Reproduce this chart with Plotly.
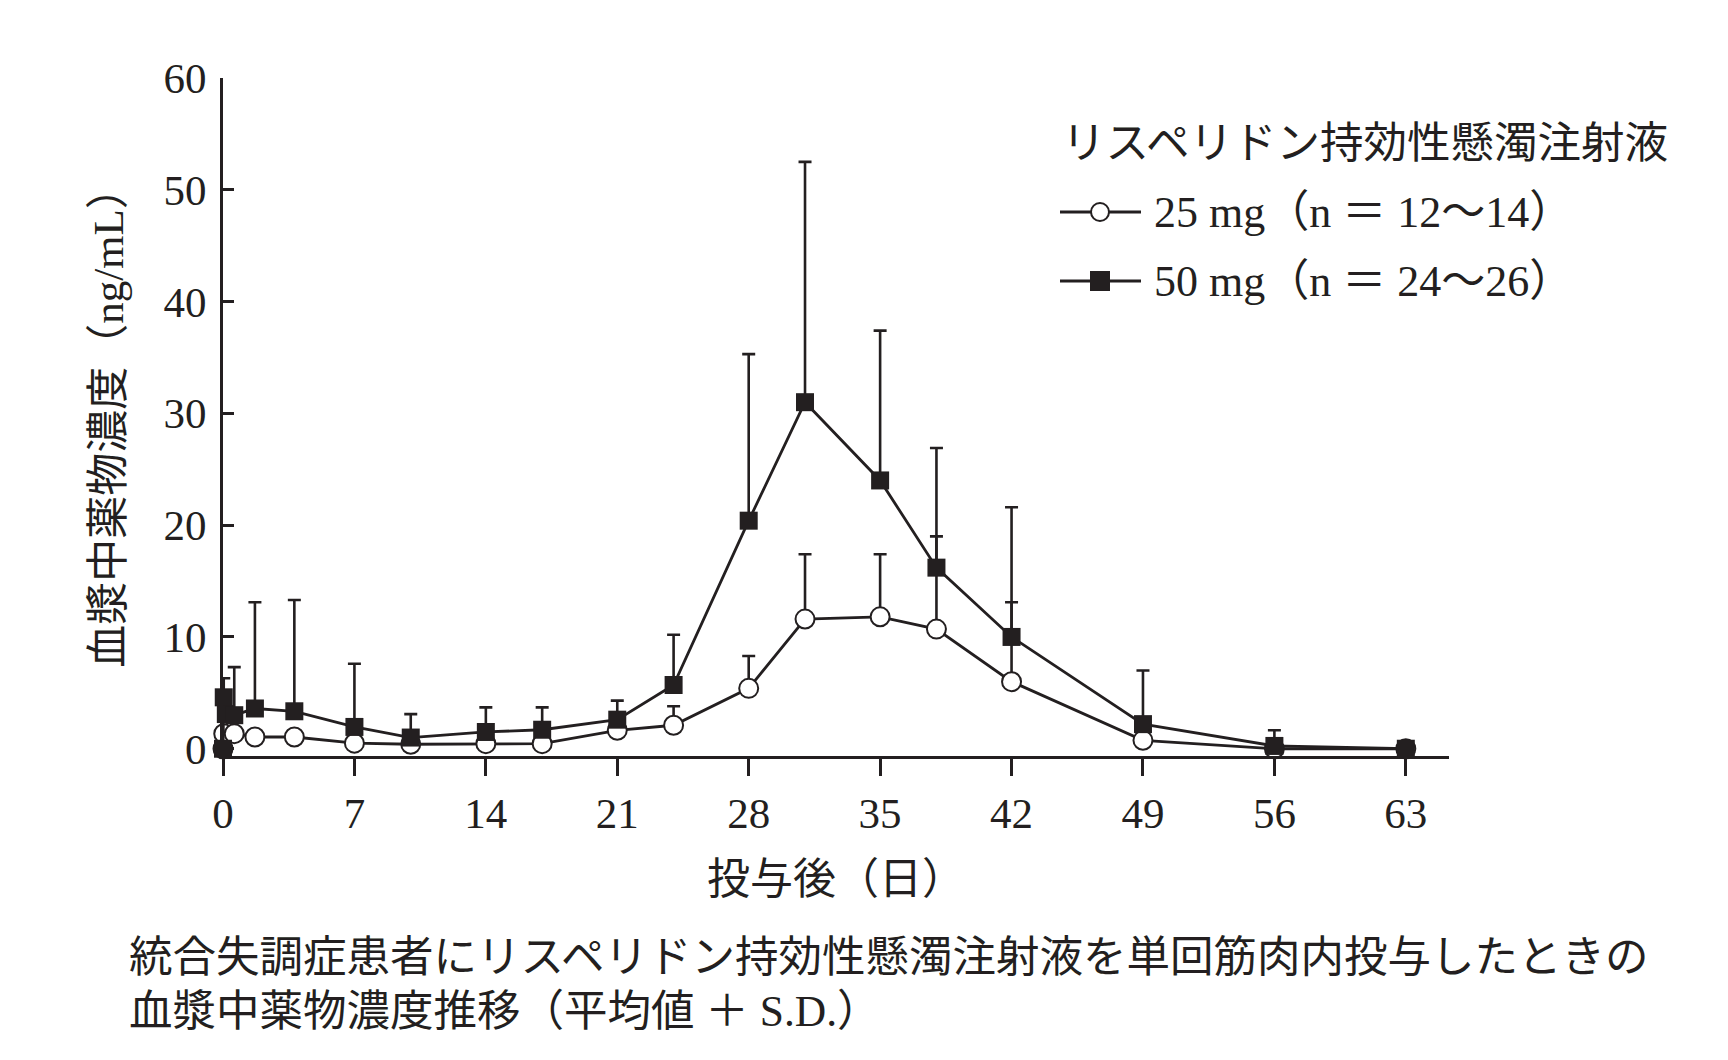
import plotly.graph_objects as go

# ---- data ----
days_25 = [0, 0.04, 0.6, 1.7, 3.8, 7, 10, 14, 17, 21, 24, 28, 31, 35, 38, 42, 49, 56, 63]
mean_25 = [0.0, 1.35, 1.35, 1.05, 1.05, 0.5, 0.4, 0.45, 0.45, 1.65, 2.1, 5.4, 11.6, 11.8, 10.7, 6.0, 0.75, 0.0, 0.0]
sd_25 = [0, 0, 0, 0, 0, 0, 0, 0, 0, 0.8, 1.7, 2.9, 5.8, 5.6, 8.3, 7.1, 2.0, 0, 0]

days_50 = [0, 0.04, 0.15, 0.6, 1.7, 3.8, 7, 10, 14, 17, 21, 24, 28, 31, 35, 38, 42, 49, 56, 63]
mean_50 = [0.0, 4.6, 3.1, 3.0, 3.6, 3.35, 1.95, 1.0, 1.5, 1.7, 2.6, 5.7, 20.4, 31.0, 24.0, 16.2, 10.0, 2.2, 0.25, 0.0]
sd_50 = [0, 1.7, 0, 4.3, 9.5, 9.95, 5.65, 2.1, 2.2, 2.0, 1.7, 4.5, 14.9, 21.5, 13.4, 10.7, 11.6, 4.8, 1.4, 0.5]

x_ticks = [0, 7, 14, 21, 28, 35, 42, 49, 56, 63]
y_ticks = [0, 10, 20, 30, 40, 50, 60]

legend_title = "リスペリドン持効性懸濁注射液"
label_25 = "25 mg（n ＝ 12〜14）"
label_50 = "50 mg（n ＝ 24〜26）"
x_title = "投与後（日）"
y_title = "血漿中薬物濃度（ng/mL）"
caption_1 = "統合失調症患者にリスペリドン持効性懸濁注射液を単回筋肉内投与したときの"
caption_2 = "血漿中薬物濃度推移（平均値 ＋ S.D.）"

FONT = "Liberation Serif, 'Noto Sans CJK JP', serif"
BLACK = "#231f20"

W, H = 1728, 1060
ML, MR, MT, MB = 223, 279, 78, 304
PW, PH = W - ML - MR, H - MT - MB


def px_x(px):
    return (px - ML) / PW


def px_y(py):
    return (H - MB - py) / PH


fig = go.Figure()

fig.add_trace(go.Scatter(
    x=days_25, y=mean_25, mode="lines+markers", name=label_25,
    line=dict(color=BLACK, width=2.8),
    marker=dict(symbol="circle", size=19, color="white", line=dict(color=BLACK, width=2)),
    error_y=dict(type="data", symmetric=False, array=sd_25, arrayminus=[0] * len(sd_25),
                 color=BLACK, thickness=2.6, width=6.5),
    cliponaxis=False, showlegend=False,
))
fig.add_trace(go.Scatter(
    x=days_50, y=mean_50, mode="lines+markers", name=label_50,
    line=dict(color=BLACK, width=2.8),
    marker=dict(symbol="square", size=18, color=BLACK, line=dict(color=BLACK, width=0)),
    error_y=dict(type="data", symmetric=False, array=sd_50, arrayminus=[0] * len(sd_50),
                 color=BLACK, thickness=2.6, width=6.5),
    cliponaxis=False, showlegend=False,
))

fig.update_xaxes(
    range=[0, 65.3], tickvals=x_ticks, ticktext=[str(v) for v in x_ticks],
    showline=True, linecolor=BLACK, linewidth=3, mirror=False,
    ticks="outside", ticklen=17, tickwidth=3, tickcolor=BLACK,
    showgrid=False, zeroline=False,
    tickfont=dict(family=FONT, size=43, color=BLACK), ticklabelstandoff=0,
    title=dict(text=x_title, font=dict(family=FONT, size=43, color=BLACK), standoff=29),
)
fig.update_yaxes(
    range=[-0.65, 60], tickvals=y_ticks, ticktext=[str(v) for v in y_ticks],
    showline=True, linecolor=BLACK, linewidth=3,
    ticks="inside", ticklen=11, tickwidth=3, tickcolor=BLACK,
    showgrid=False, zeroline=False,
    tickfont=dict(family=FONT, size=43, color=BLACK), ticklabelstandoff=5,
    title=dict(text=y_title, font=dict(family=FONT, size=43, color=BLACK), standoff=27),
)

annotations = []
shapes = []
# legend (drawn manually so the sample lines match the reference length)
annotations.append(dict(text=legend_title, x=px_x(1060), y=px_y(143), xref="paper", yref="paper",
                        xanchor="left", yanchor="middle", showarrow=False,
                        font=dict(family=FONT, size=43.5, color=BLACK)))
for yy, lab, sym in [(212, label_25, "circle"), (281, label_50, "rect")]:
    shapes.append(dict(type="line", xref="paper", yref="paper", x0=px_x(1060), x1=px_x(1141),
                       y0=px_y(yy), y1=px_y(yy), line=dict(color=BLACK, width=2.8)))
    shapes.append(dict(type=sym, xref="paper", yref="paper", xsizemode="pixel", ysizemode="pixel",
                       xanchor=px_x(1100), yanchor=px_y(yy), x0=-9, x1=9, y0=-9, y1=9,
                       fillcolor="white" if sym == "circle" else BLACK,
                       line=dict(color=BLACK, width=2)))
    annotations.append(dict(text=lab, x=px_x(1152), y=px_y(yy), xref="paper", yref="paper",
                            xanchor="left", yanchor="middle", showarrow=False,
                            font=dict(family=FONT, size=44, color=BLACK)))
# caption
for yy, txt in [(957, caption_1), (1011, caption_2)]:
    annotations.append(dict(text=txt, x=px_x(127), y=px_y(yy), xref="paper", yref="paper",
                            xanchor="left", yanchor="middle", showarrow=False,
                            font=dict(family=FONT, size=43.5, color=BLACK)))

fig.update_layout(
    width=W, height=H, margin=dict(l=ML, r=MR, t=MT, b=MB, autoexpand=False),
    paper_bgcolor="white", plot_bgcolor="white",
    annotations=annotations, shapes=shapes, showlegend=False,
)

fig.write_html("out.html", config={"displayModeBar": False},
               post_script="document.body.style.margin='0';")
